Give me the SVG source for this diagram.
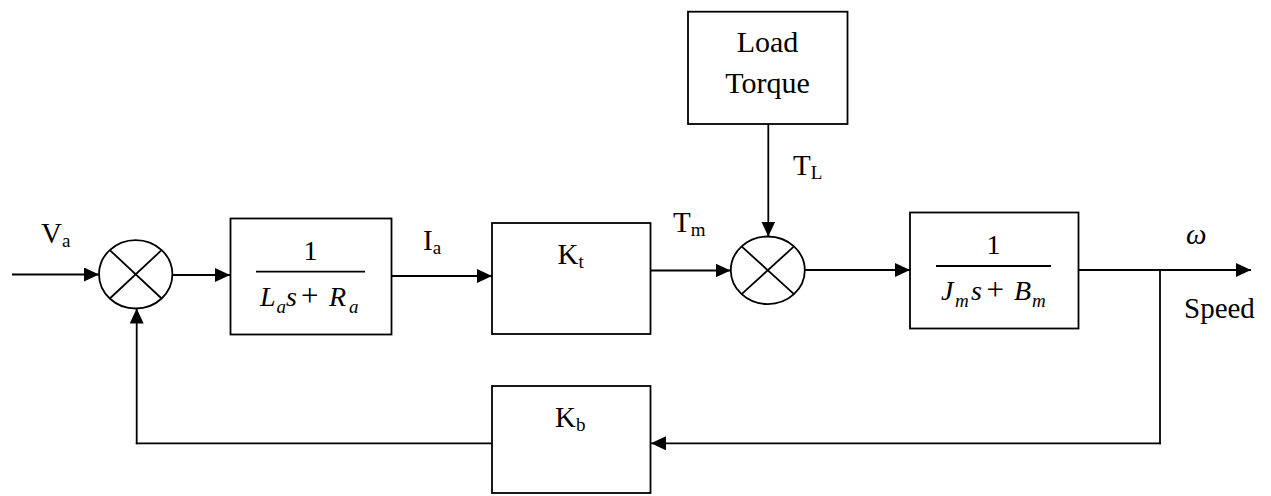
<svg xmlns="http://www.w3.org/2000/svg" width="1271" height="496" viewBox="0 0 1271 496" font-family="'Liberation Serif', Tinos, 'Times New Roman', 'DejaVu Serif', serif">
<defs>
<style>
.box{fill:#fff;stroke:#000;stroke-width:1.8}
.ln{fill:none;stroke:#000;stroke-width:1.8}
.sum{fill:#fff;stroke:#000;stroke-width:1.8}
.t{font-family:'Liberation Serif', Tinos, 'Times New Roman', 'DejaVu Serif', serif;font-size:29px;fill:#000}
.m{font-family:'Liberation Serif', Tinos, 'Times New Roman', 'DejaVu Serif', serif;font-size:28px;fill:#000}
.i{font-style:italic}
.pl{font-size:31px}
.sb{font-size:19px}
</style>
<marker id="ah" markerUnits="userSpaceOnUse" markerWidth="15" markerHeight="14" refX="15" refY="7" orient="auto">
<path d="M0,0 L15,7 L0,14 z" fill="#000"/>
</marker>
</defs>
<rect width="1271" height="496" fill="#fff"/>

<g id="connectors">
<line class="ln" x1="12" y1="274.5" x2="99" y2="274.5" marker-end="url(#ah)"/>
<line class="ln" x1="172.5" y1="275" x2="230" y2="275" marker-end="url(#ah)"/>
<line class="ln" x1="391.5" y1="276" x2="492" y2="276" marker-end="url(#ah)"/>
<line class="ln" x1="650.5" y1="270.5" x2="730.5" y2="270.5" marker-end="url(#ah)"/>
<line class="ln" x1="768.3" y1="124" x2="768.3" y2="236.5" marker-end="url(#ah)"/>
<line class="ln" x1="805" y1="270" x2="910" y2="270" marker-end="url(#ah)"/>
<line class="ln" x1="1078.5" y1="270" x2="1251" y2="270" marker-end="url(#ah)"/>
<line class="ln" x1="1160" y1="270" x2="1160" y2="444.2"/>
<line class="ln" x1="1160.9" y1="443.3" x2="651" y2="443.3" marker-end="url(#ah)"/>
<line class="ln" x1="492" y1="443.3" x2="135.8" y2="443.3"/>
<line class="ln" x1="136.7" y1="444.2" x2="136.7" y2="308.5" marker-end="url(#ah)"/>
</g>

<g id="sum1">
<ellipse class="sum" cx="135.7" cy="274.3" rx="36.7" ry="34.2"/>
<line class="ln" x1="109.8" y1="250.1" x2="161.6" y2="298.5"/>
<line class="ln" x1="161.6" y1="250.1" x2="109.8" y2="298.5"/>
</g>

<g id="sum2">
<ellipse class="sum" cx="767.8" cy="270.3" rx="37" ry="33.8"/>
<line class="ln" x1="741.6" y1="246.4" x2="794" y2="294.2"/>
<line class="ln" x1="794" y1="246.4" x2="741.6" y2="294.2"/>
</g>

<g id="armature">
<rect class="box" x="230.5" y="218.5" width="161" height="116"/>
<text class="m" x="310.5" y="260" text-anchor="middle">1</text>
<line class="ln" x1="256" y1="271.7" x2="365" y2="271.7"/>
<text class="m i" x="260" y="306">L</text>
<text class="m i sb" x="276.5" y="313">a</text>
<text class="m i" x="286" y="306">s</text>
<text class="m pl" x="301" y="306">+</text>
<text class="m i" x="329" y="306">R</text>
<text class="m i sb" x="349" y="313">a</text>
</g>

<g id="kt">
<rect class="box" x="492" y="223" width="158.5" height="111"/>
<text class="t" x="557.5" y="263.5">K<tspan dy="4" class="sb">t</tspan></text>
</g>

<g id="load">
<rect class="box" x="688" y="11.7" width="159.5" height="112.3"/>
<text class="t" x="767.5" y="51.7" text-anchor="middle" style="font-size:30px">Load</text>
<text class="t" x="767.5" y="93.3" text-anchor="middle" style="font-size:30px">Torque</text>
</g>

<g id="mech">
<rect class="box" x="910" y="212.5" width="168.5" height="116"/>
<text class="m" x="993.5" y="254" text-anchor="middle">1</text>
<line class="ln" x1="936" y1="266" x2="1051" y2="266"/>
<text class="m i" x="941" y="300">J</text>
<text class="m i sb" x="955" y="307">m</text>
<text class="m i" x="971" y="300">s</text>
<text class="m pl" x="986.5" y="300">+</text>
<text class="m i" x="1014" y="300">B</text>
<text class="m i sb" x="1032" y="307">m</text>
</g>

<g id="kb">
<rect class="box" x="492" y="386" width="158.5" height="107"/>
<text class="t" x="555" y="427">K<tspan dy="4" class="sb">b</tspan></text>
</g>

<g id="labels">
<text class="t" x="41" y="243">V<tspan dy="4" class="sb">a</tspan></text>
<text class="t" x="423" y="249.5">I<tspan dy="4" class="sb">a</tspan></text>
<text class="t" x="673" y="232">T<tspan dy="4" class="sb">m</tspan></text>
<text class="t" x="793" y="175">T<tspan dy="4" class="sb">L</tspan></text>
<text class="t i" x="1186" y="244">ω</text>
<text class="t" x="1184" y="318">Speed</text>
</g>
</svg>
